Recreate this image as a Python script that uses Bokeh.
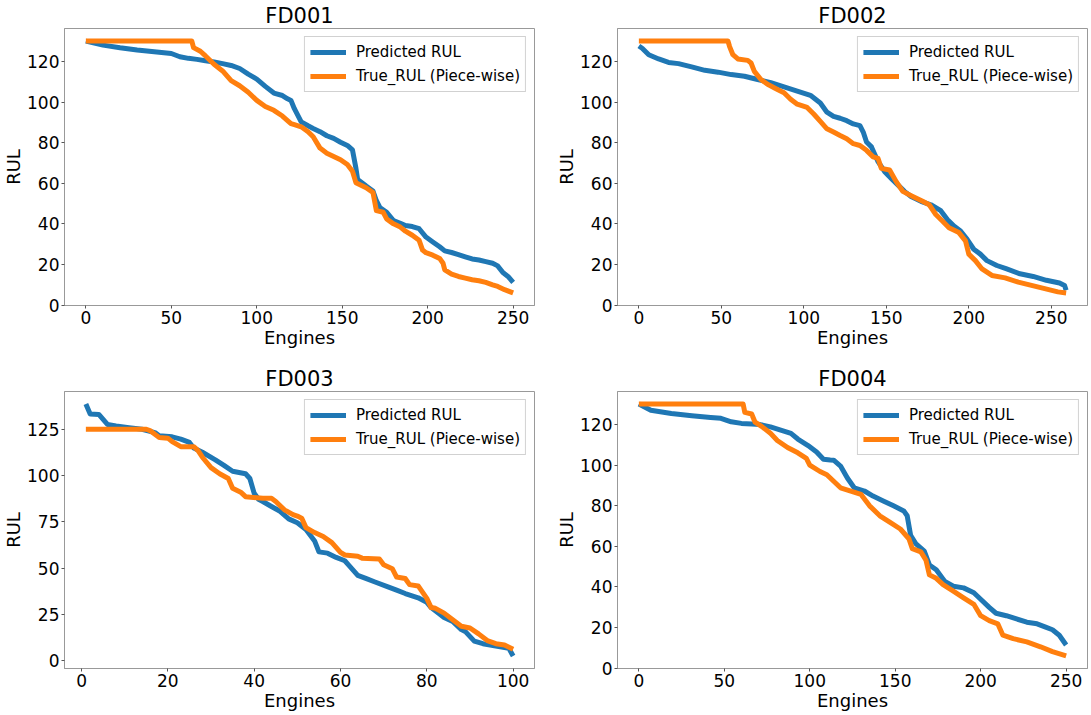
from bokeh.plotting import figure
from bokeh.layouts import column, row
from bokeh.models import Range1d, FixedTicker, Legend, LegendItem
from bokeh.embed import file_html
from bokeh.resources import INLINE

# ---------------- data ----------------
fd001_pred_x = [0, 10, 20, 30, 40, 50, 55, 60, 65, 70, 75, 80, 85, 90, 95, 100, 105, 110, 115, 118, 120, 122, 126, 130, 133, 137, 141, 145, 149, 153, 156, 158, 159, 164, 168, 170, 172, 176, 180, 184, 187, 191, 195, 199, 203, 207, 210, 214, 218, 222, 226, 230, 234, 238, 241, 244, 247, 250]
fd001_pred = [130, 128, 126.7, 125.6, 124.7, 123.9, 122.3, 121.5, 121, 120.3, 119.7, 118.9, 118, 116.5, 113.7, 111.3, 107.7, 104.4, 103.2, 101.6, 100.8, 96.7, 90.2, 88.3, 87, 85.4, 83.4, 82.1, 80.2, 78.6, 76.4, 67.5, 61.9, 58.6, 56.2, 51.4, 48.1, 45.7, 41.6, 40.3, 39.2, 38.7, 37.6, 33.5, 31.1, 28.7, 26.7, 25.9, 24.9, 23.8, 22.7, 22.2, 21.4, 20.6, 19.3, 16, 14.1, 11.2]
fd001_true_x = [0, 62, 63, 67, 70, 75, 80, 85, 90, 95, 100, 105, 110, 115, 120, 122, 126, 130, 133, 137, 141, 145, 149, 153, 156, 158, 164, 168, 170, 174, 176, 180, 184, 187, 191, 195, 197, 199, 203, 207, 209, 210, 214, 218, 222, 226, 230, 234, 238, 241, 245, 250]
fd001_true = [130, 130, 126.8, 125, 122.7, 118.6, 115.3, 110.5, 108, 104.8, 100.8, 97.8, 95.9, 93.1, 89.4, 88.9, 87.8, 85.4, 82.9, 77.3, 74.8, 73.2, 71.6, 69.2, 65.9, 60.3, 57.8, 55.4, 46.5, 45.7, 42.4, 40, 38.4, 36.4, 34.4, 31.9, 27.1, 25.8, 24.6, 23, 20.6, 17.3, 15.2, 14.1, 13.3, 12.5, 12, 11.2, 10, 9.2, 7.6, 6]

fd002_pred_x = [0, 2, 6, 12, 18, 24, 32, 40, 48, 56, 64, 72, 80, 88, 96, 104, 110, 114, 118, 122, 126, 130, 134, 136, 138, 141, 145, 149, 153, 157, 161, 165, 171, 177, 183, 187, 191, 195, 199, 203, 207, 211, 217, 223, 231, 239, 247, 255, 258, 259]
fd002_pred = [127.6, 126.5, 123.3, 121.2, 119.5, 118.9, 117.3, 115.6, 114.7, 113.5, 112.7, 111.1, 109.5, 107.5, 105.4, 103.3, 99.5, 95, 92.9, 92, 90.8, 89.2, 88.4, 85.2, 80.3, 77.9, 70.6, 65.7, 62.4, 59.2, 56, 53.5, 51.1, 49.4, 46.5, 42.1, 38.9, 36.5, 32.4, 27.5, 25.1, 21.9, 19.5, 17.8, 15.4, 14.1, 12.2, 10.9, 9.7, 7.3]
fd002_true_x = [0, 54, 55, 57, 60, 66, 68, 70, 74, 78, 84, 88, 92, 96, 102, 106, 110, 114, 118, 122, 126, 130, 134, 138, 142, 145, 147, 152, 156, 160, 166, 172, 176, 180, 184, 188, 194, 198, 200, 204, 208, 214, 222, 230, 238, 246, 254, 259]
fd002_true = [130, 130, 127.3, 123.3, 121.2, 120.5, 119.2, 115.1, 111.1, 108.7, 106.2, 104.6, 101.4, 98.9, 97.3, 94.1, 90.5, 86.8, 85.2, 83.5, 81.9, 79.5, 78.6, 76.2, 73, 72.2, 67.3, 66.5, 60.8, 56, 53.5, 51.1, 49.4, 44.6, 41.4, 38.1, 35.7, 31.6, 25.1, 21.9, 17.8, 14.6, 13.4, 11.3, 9.7, 8.1, 6.5, 6]

fd003_pred_x = [1, 2, 4, 5, 6, 8, 11, 14, 17, 18, 21, 23, 25, 26, 28, 31, 33, 35, 38, 39, 40, 41, 42, 44, 46, 48, 50, 52, 54, 55, 57, 59, 61, 62, 64, 66, 68, 71, 73, 75, 78, 80, 81, 84, 86, 88, 89, 91, 93, 96, 99, 100]
fd003_pred = [138.6, 133.3, 133, 130.3, 127.6, 126.8, 125.9, 125, 123.2, 121.5, 120.9, 119.7, 117.9, 114.9, 112.6, 108.5, 105.5, 102.3, 101, 98.4, 90.4, 87.2, 86, 83.3, 80.7, 76.6, 74.5, 70.9, 64.7, 58.8, 58.1, 55.8, 54, 51.4, 46.1, 44.3, 42.5, 39.9, 38.1, 36.3, 34, 31.5, 28.7, 23.4, 21.2, 16.8, 15.6, 10.6, 9.2, 7.9, 6.7, 2.6]
fd003_true_x = [1, 15, 16, 17, 18, 20, 21, 23, 26, 27, 28, 30, 32, 34, 35, 37, 38, 42, 44, 45, 47, 49, 50, 51, 52, 54, 56, 58, 60, 61, 64, 65, 69, 70, 72, 73, 75, 76, 78, 80, 81, 82, 84, 86, 88, 90, 92, 94, 96, 98, 100]
fd003_true = [125, 125, 124.1, 122.3, 120.6, 120.2, 118.3, 115.6, 115.6, 113.5, 109.9, 104.3, 101, 98.4, 93.1, 90.8, 88.6, 87.7, 87.7, 86, 81.5, 78.9, 78.1, 77, 71.9, 69.2, 67.1, 63.8, 58.5, 57.1, 56.4, 55.4, 55, 51.8, 49.7, 45.2, 44.4, 41.1, 40.4, 33.7, 28.7, 28.3, 25.7, 22.1, 18.6, 17.7, 14.5, 10.9, 9.2, 8.5, 6.2]

fd004_pred_x = [0, 7, 19, 31, 42, 48, 54, 60, 66, 71, 77, 83, 89, 93, 99, 104, 108, 112, 114, 118, 122, 126, 132, 137, 143, 149, 155, 157, 159, 162, 167, 170, 174, 179, 184, 190, 196, 200, 205, 209, 215, 221, 227, 233, 238, 242, 246, 250]
fd004_pred = [130, 127, 125.4, 124.3, 123.4, 123, 121.3, 120.5, 120.2, 119.9, 118.8, 117.2, 115.6, 112.8, 109.6, 106.4, 102.8, 102.5, 102.4, 99.5, 93.6, 88.8, 87.2, 84.7, 82.3, 79.9, 77.4, 75, 65.4, 61.3, 57.6, 50.8, 48.4, 42.7, 40.3, 39.5, 37.1, 33.9, 29.9, 27, 25.8, 24.2, 22.6, 21.8, 20.2, 18.9, 16.2, 11.4]
fd004_true_x = [0, 61, 62, 66, 68, 72, 77, 81, 87, 93, 98, 100, 106, 110, 114, 118, 124, 130, 135, 141, 147, 153, 158, 160, 165, 168, 170, 174, 178, 184, 190, 196, 200, 205, 210, 213, 219, 227, 235, 242, 250]
fd004_true = [130, 130, 125.9, 125.1, 121.1, 118.9, 115.6, 112.1, 108.6, 106, 103.3, 100, 96.8, 95.2, 92, 88.8, 87.2, 85.5, 79.9, 75, 71.8, 68.5, 63.7, 58.8, 57.2, 53.1, 45.9, 44.2, 41.1, 37.9, 34.6, 31.4, 25.8, 23.4, 21.8, 16.2, 14.5, 12.9, 10.5, 8.1, 6]

titles = ["FD001", "FD002", "FD003", "FD004"]
series_labels = ["Predicted RUL", "True_RUL (Piece-wise)"]
x_label = "Engines"
y_label = "RUL"
xticks_250 = [0, 50, 100, 150, 200, 250]
xticks_100 = [0, 20, 40, 60, 80, 100]
yticks_120 = [0, 20, 40, 60, 80, 100, 120]
yticks_125 = [0, 25, 50, 75, 100, 125]

# ---------------- styling ----------------
BLUE = "#1f77b4"
ORANGE = "#ff7f0e"
FONT = "DejaVu Sans"
FRAME_W, FRAME_H = 470, 277


def make(title, xp, yp, xt, yt, xticks, yticks, left, right, top, bottom):
    xs = xp + xt
    ys = yp + yt
    xpad = 0.05 * (max(xs) - min(xs))
    ypad = 0.05 * (max(ys) - min(ys))
    p = figure(frame_width=FRAME_W, frame_height=FRAME_H,
               x_range=Range1d(min(xs) - xpad, max(xs) + xpad),
               y_range=Range1d(min(ys) - ypad, max(ys) + ypad),
               output_backend="svg", toolbar_location=None,
               min_border_left=left, min_border_right=right,
               min_border_top=top, min_border_bottom=bottom)
    p.background_fill_color = "white"
    p.border_fill_color = "white"
    p.outline_line_color = "#999999"
    p.outline_line_width = 1
    p.xgrid.visible = False
    p.ygrid.visible = False

    p.title.text = title
    p.title.text_font = FONT
    p.title.text_font_size = "21px"
    p.title.text_font_style = "normal"
    p.title.text_color = "black"
    p.title.align = "center"
    p.title.standoff = 2

    for ax, ticks, lab in ((p.xaxis, xticks, x_label), (p.yaxis, yticks, y_label)):
        ax.ticker = FixedTicker(ticks=ticks)
        ax.axis_label = lab
        ax.axis_label_text_font = FONT
        ax.axis_label_text_font_size = "18px"
        ax.axis_label_text_font_style = "normal"
        ax.axis_label_text_color = "black"
        ax.axis_label_standoff = 0
        ax.major_label_text_font = FONT
        ax.major_label_text_font_size = "17px"
        ax.major_label_text_color = "black"
        ax.major_label_standoff = 2
        ax.axis_line_color = "#999999"
        ax.major_tick_line_color = "#555555"
        ax.major_tick_out = 3
        ax.major_tick_in = 0
        ax.minor_tick_line_color = None

    r1 = p.line(xp, yp, line_color=BLUE, line_width=5, line_join="round")
    r2 = p.line(xt, yt, line_color=ORANGE, line_width=5, line_join="round")
    leg = Legend(items=[LegendItem(label=series_labels[0], renderers=[r1]),
                        LegendItem(label=series_labels[1], renderers=[r2])],
                 location="top_right")
    leg.label_text_font = FONT
    leg.label_text_font_size = "15px"
    leg.label_text_color = "black"
    leg.glyph_width = 36
    leg.glyph_height = 20
    leg.label_height = 20
    leg.label_standoff = 10
    leg.spacing = 4
    leg.padding = 5
    leg.margin = 8
    leg.border_line_color = "#cccccc"
    leg.border_line_alpha = 0.9
    leg.background_fill_alpha = 0.8
    p.add_layout(leg)
    return p


p1 = make(titles[0], fd001_pred_x, fd001_pred, fd001_true_x, fd001_true, xticks_250, yticks_120, 58, 19, 24, 58)
p2 = make(titles[1], fd002_pred_x, fd002_pred, fd002_true_x, fd002_true, xticks_250, yticks_120, 57, 1, 24, 58)
p3 = make(titles[2], fd003_pred_x, fd003_pred, fd003_true_x, fd003_true, xticks_100, yticks_125, 58, 19, 24, 38)
p4 = make(titles[3], fd004_pred_x, fd004_pred, fd004_true_x, fd004_true, xticks_250, yticks_120, 57, 1, 24, 38)

layout = column(row(p1, p2), row(p3, p4))
open("out.html", "w").write(file_html(layout, INLINE))
